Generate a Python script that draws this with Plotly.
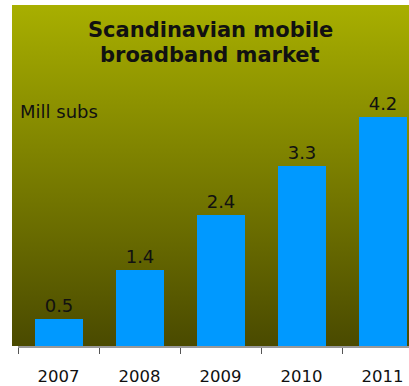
import base64
import plotly.graph_objects as go

years = ["2007", "2008", "2009", "2010", "2011"]
subs = [0.5, 1.4, 2.4, 3.3, 4.2]
labels = ["0.5", "1.4", "2.4", "3.3", "4.2"]

W, H = 409, 386
ml, mr, mt, mb = 18, 0, 5, 40
pw = W - ml - mr
ph = H - mt - mb
cat_px = 81.0
x_end = -0.5 + pw / cat_px
y_top = ph / 54.5

fig = go.Figure()
fig.add_trace(go.Bar(
    x=years, y=subs,
    width=48 / cat_px,
    marker=dict(color="#0099FF", line=dict(width=0)),
    text=labels, textposition="outside",
    textfont=dict(family="DejaVu Sans", size=18, color="#111111"),
    cliponaxis=False,
))

svg = ('<svg xmlns="http://www.w3.org/2000/svg" width="100" height="100" preserveAspectRatio="none">'
       '<defs><linearGradient id="g" x1="0" y1="0" x2="0" y2="1">'
       '<stop offset="0" stop-color="rgb(168,175,0)"/>'
       '<stop offset="1" stop-color="rgb(74,74,0)"/>'
       '</linearGradient></defs>'
       '<rect x="0" y="0" width="100" height="100" fill="url(#g)"/></svg>')
src = "data:image/svg+xml;base64," + base64.b64encode(svg.encode()).decode()

x0p = -6 / pw

fig.update_layout(
    width=W, height=H,
    margin=dict(l=ml, r=mr, t=mt, b=mb),
    paper_bgcolor="white", plot_bgcolor="rgba(0,0,0,0)",
    images=[dict(source=src, xref="paper", yref="paper", x=x0p, y=1,
                 sizex=1 - x0p, sizey=1, xanchor="left", yanchor="top",
                 sizing="stretch", layer="below")],
    showlegend=False,
    bargap=0,
    xaxis=dict(type="category", range=[-0.5, x_end], tickson="boundaries",
               ticks="outside", ticklen=6, tickwidth=1, tickcolor="#555555",
               showline=True, linecolor="#999999", linewidth=2,
               showgrid=False, zeroline=False, fixedrange=True,
               tickfont=dict(family="DejaVu Sans", size=16.5, color="#111111"),
               ticklabelstandoff=14),
    yaxis=dict(range=[0, y_top], visible=False, fixedrange=True),
    annotations=[
        dict(text="<b>Scandinavian mobile</b>", xref="paper", yref="paper",
             x=(210 - ml) / pw, y=1 - (30 - mt) / ph, xanchor="center", yanchor="middle",
             showarrow=False, font=dict(family="DejaVu Sans", size=21, color="#111111")),
        dict(text="<b>broadband market</b>", xref="paper", yref="paper",
             x=(210 - ml) / pw, y=1 - (55 - mt) / ph, xanchor="center", yanchor="middle",
             showarrow=False, font=dict(family="DejaVu Sans", size=21, color="#111111")),
        dict(text="Mill subs", xref="paper", yref="paper",
             x=(18 - ml) / pw, y=1 - (112 - mt) / ph, xanchor="left", yanchor="middle",
             showarrow=False, font=dict(family="DejaVu Sans", size=18, color="#111111")),
    ],
)
fig.write_html("out.html")
